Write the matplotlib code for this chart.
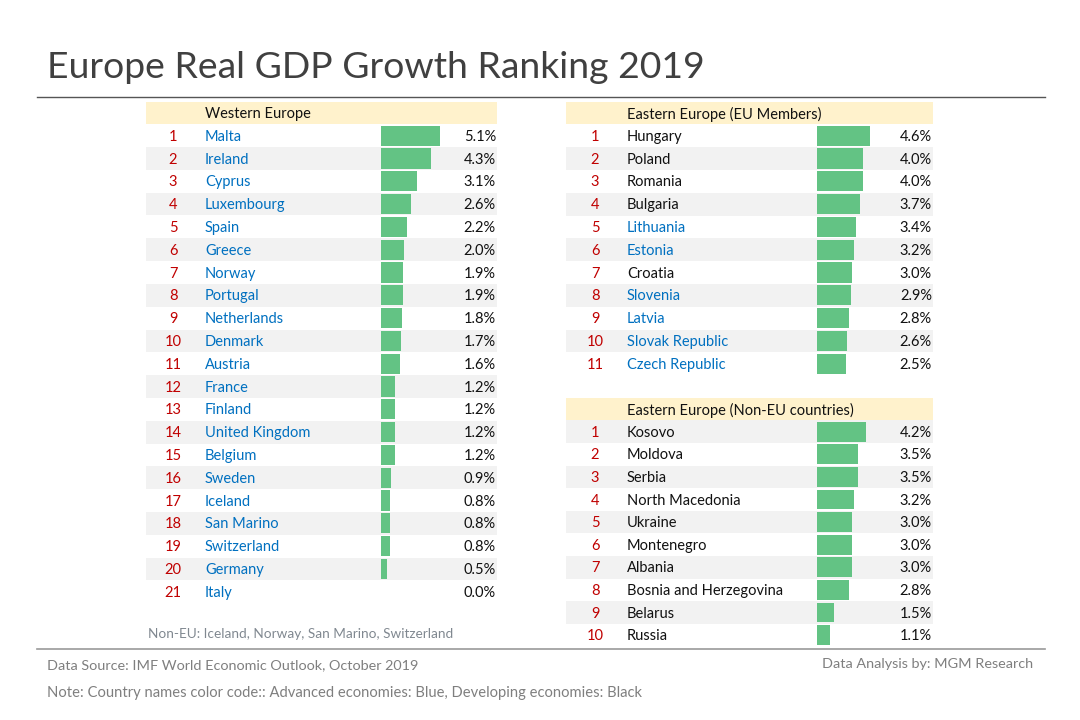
import matplotlib
matplotlib.use("Agg")
import matplotlib.pyplot as plt

plt.rcParams["font.family"] = ["Lato", "DejaVu Sans"]

BLUE = "#0070C0"
BLACK = "#111111"
W, H = 1080, 720

west_names = ["Malta", "Ireland", "Cyprus", "Luxembourg", "Spain", "Greece", "Norway", "Portugal",
              "Netherlands", "Denmark", "Austria", "France", "Finland", "United Kingdom", "Belgium",
              "Sweden", "Iceland", "San Marino", "Switzerland", "Germany", "Italy"]
west_values = [5.1, 4.3, 3.1, 2.6, 2.2, 2.0, 1.9, 1.9, 1.8, 1.7, 1.6, 1.2, 1.2, 1.2, 1.2, 0.9, 0.8, 0.8, 0.8, 0.5, 0.0]
west_colors = [BLUE] * 21

eu_names = ["Hungary", "Poland", "Romania", "Bulgaria", "Lithuania", "Estonia", "Croatia", "Slovenia",
            "Latvia", "Slovak Republic", "Czech Republic"]
eu_values = [4.6, 4.0, 4.0, 3.7, 3.4, 3.2, 3.0, 2.9, 2.8, 2.6, 2.5]
eu_colors = [BLACK, BLACK, BLACK, BLACK, BLUE, BLUE, BLACK, BLUE, BLUE, BLUE, BLUE]

noneu_names = ["Kosovo", "Moldova", "Serbia", "North Macedonia", "Ukraine", "Montenegro", "Albania",
               "Bosnia and Herzegovina", "Belarus", "Russia"]
noneu_values = [4.2, 3.5, 3.5, 3.2, 3.0, 3.0, 3.0, 2.8, 1.5, 1.1]
noneu_colors = [BLACK] * 10


def table(fig, left, right, top, pitch, bar_x, name_x, rank_x, title, names, values, colors, first_shaded):
    n = len(names)
    height = pitch * (n + 1)
    ax = fig.add_axes([left / W, 1 - (top + height) / H, (right - left) / W, height / H])
    scale = 11.6  # px per 1%
    ax.set_xlim((left - bar_x) / scale, (right - bar_x) / scale)
    ax.set_ylim(n + 0.5, -0.5)
    ax.axis("off")
    tx = ax.get_yaxis_transform()
    nudge = 0.05  # text sits a touch low in the rows

    ax.axhspan(-0.5, 0.5, color="#FFF2CC", lw=0)
    ax.text((name_x - left) / (right - left), nudge, title, transform=tx, ha="left", va="center",
            fontsize=10.5, color=BLACK)
    for i, (name, val, col) in enumerate(zip(names, values, colors), start=1):
        if (i % 2 == 1) == first_shaded:
            ax.axhspan(i - 0.5, i + 0.5, color="#F2F2F2", lw=0)
        ax.text((rank_x - left) / (right - left), i + nudge, str(i), transform=tx, ha="center", va="center",
                fontsize=10.5, color="#C00000")
        ax.text((name_x - left) / (right - left), i + nudge, name, transform=tx, ha="left", va="center",
                fontsize=10.5, color=col)
        ax.text(0.997, i + nudge, f"{val:.1f}%", transform=tx, ha="right", va="center",
                fontsize=10.5, color=BLACK)
    ax.barh(range(1, n + 1), values, height=0.88, color="#63C384", zorder=3)
    return ax


fig = plt.figure(figsize=(W / 100, H / 100), dpi=100)

table(fig, 146, 497, 101.5, 22.8, 381, 205, 173, "Western Europe", west_names, west_values, west_colors, False)
table(fig, 566, 933, 101.5, 22.8, 817, 627, 595, "Eastern Europe (EU Members)", eu_names, eu_values, eu_colors, False)
table(fig, 566, 933, 397.8, 22.6, 817, 627, 595, "Eastern Europe (Non-EU countries)", noneu_names, noneu_values, noneu_colors, True)

fig.text(47 / W, 1 - 68 / H, "Europe Real GDP Growth Ranking 2019", fontsize=26.9, color="#404040",
         ha="left", va="center")
fig.text(148 / W, 1 - 634 / H, "Non-EU: Iceland, Norway, San Marino, Switzerland", fontsize=9.85,
         color="#808890", ha="left", va="center")
fig.text(47 / W, 1 - 665 / H, "Data Source: IMF World Economic Outlook, October 2019", fontsize=10.4,
         color="#7F7F7F", ha="left", va="center")
fig.text(1033 / W, 1 - 664 / H, "Data Analysis by: MGM Research", fontsize=10.4, color="#7F7F7F",
         ha="right", va="center")
fig.text(47 / W, 1 - 693.5 / H, "Note: Country names color code:: Advanced economies: Blue, Developing economies: Black",
         fontsize=10.6, color="#7F7F7F", ha="left", va="center")

fig.add_artist(plt.Line2D([37 / W, 1045 / W], [1 - 97 / H, 1 - 97 / H], color="#555555", lw=1))
fig.add_artist(plt.Line2D([37 / W, 1045 / W], [1 - 649 / H, 1 - 649 / H], color="#999999", lw=1.2))

fig.savefig("out.png", dpi=100)
